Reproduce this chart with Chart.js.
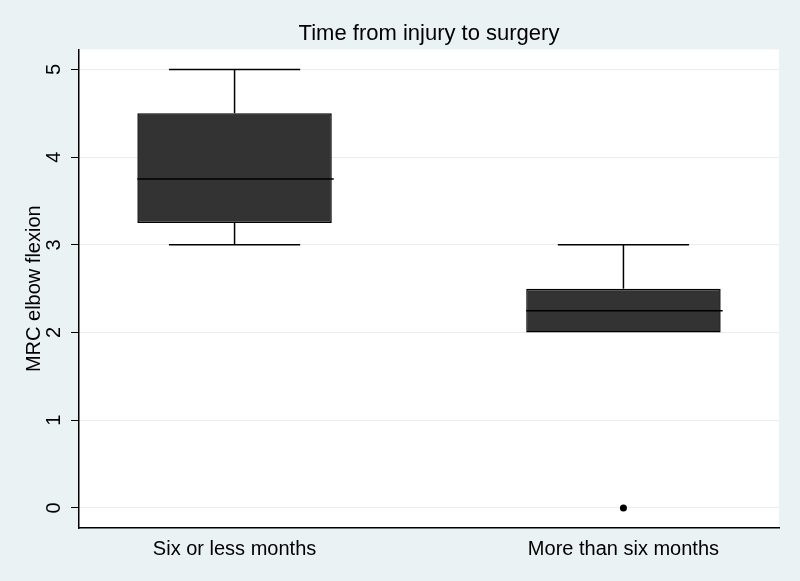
<!DOCTYPE html>
<html>
<head>
<meta charset="utf-8">
<script src="https://cdn.jsdelivr.net/npm/chart.js@4.4.0/dist/chart.umd.min.js"></script>
<style>
    body { margin: 0; background: #eaf2f3; }
    canvas { display: block; }
</style>
</head>
<body>
<canvas id="boxChart" width="800" height="581"></canvas>
<script>
// box plot summary per group
const categories = ['Six or less months', 'More than six months'];
const lowerWhisker = [3, 2];
const q1 = [3.25, 2];
const median = [3.75, 2.25];
const q3 = [4.5, 2.5];
const upperWhisker = [5, 3];
const outliers = [[], [0]];
const yTicks = [0, 1, 2, 3, 4, 5];

const FONT = "'Liberation Sans', Arial, sans-serif";

// whiskers, caps and median line, drawn on top of the bars
const boxParts = {
    id: 'boxParts',
    beforeDraw(chart) {
        const {ctx, chartArea: a} = chart;
        ctx.save();
        ctx.fillStyle = '#ffffff';
        ctx.fillRect(a.left, a.top, a.right - a.left, a.bottom - a.top);
        ctx.restore();
    },
    afterDatasetsDraw(chart) {
        const ctx = chart.ctx;
        const y = chart.scales.y;
        const bars = chart.getDatasetMeta(0).data;

        function line(x1, y1, x2, y2) {
            ctx.beginPath();
            ctx.moveTo(x1, y1);
            ctx.lineTo(x2, y2);
            ctx.stroke();
        }

        ctx.save();
        ctx.strokeStyle = '#000000';
        ctx.lineWidth = 1.5;
        bars.forEach(function (bar, i) {
            let half = bar.width / 2;
            let cap = half * 0.675;
            let yMed = y.getPixelForValue(median[i]);
            line(bar.x - half, yMed, bar.x + half + 2, yMed);

            let yUp = y.getPixelForValue(upperWhisker[i]);
            line(bar.x, yUp, bar.x, y.getPixelForValue(q3[i]));
            line(bar.x - cap, yUp, bar.x + cap, yUp);

            // no lower whisker when it coincides with the box edge
            if (lowerWhisker[i] < q1[i]) {
                let yLow = y.getPixelForValue(lowerWhisker[i]);
                line(bar.x, yLow, bar.x, y.getPixelForValue(q1[i]));
                line(bar.x - cap, yLow, bar.x + cap, yLow);
            }
        });
        ctx.restore();
    }
};

const boxData = categories.map((c, i) => ({x: i + 1, y: [q1[i], q3[i]]}));
const outlierData = [];
outliers.forEach((list, i) => list.forEach(v => outlierData.push({x: i + 1, y: v})));

new Chart(document.getElementById('boxChart').getContext('2d'), {
    type: 'bar',
    data: {
        datasets: [{
            data: boxData,
            backgroundColor: '#333333',
            borderColor: '#000000',
            borderWidth: 1.5,
            borderSkipped: false,
            barPercentage: 0.5,
            categoryPercentage: 1
        }, {
            type: 'scatter',
            data: outlierData,
            backgroundColor: '#000000',
            borderColor: '#000000',
            pointRadius: 3.5,
            borderWidth: 0
        }]
    },
    options: {
        responsive: false,
        animation: false,
        layout: {padding: {right: 21}},
        plugins: {
            legend: {display: false},
            tooltip: {enabled: false},
            title: {
                display: true,
                text: 'Time from injury to surgery',
                color: '#000000',
                fullSize: false,
                font: {family: FONT, size: 22, weight: 'normal'},
                padding: {top: 21, bottom: 2}
            }
        },
        scales: {
            x: {
                type: 'linear',
                offset: false,
                min: 0.6,
                max: 2.4,
                afterBuildTicks: axis => { axis.ticks = categories.map((c, i) => ({value: i + 1})); },
                afterFit: axis => { axis.height = 53; },
                grid: {display: false, drawTicks: false, offset: false},
                border: {display: true, color: '#000000', width: 1.5},
                ticks: {
                    color: '#000000',
                    padding: 9,
                    font: {family: FONT, size: 20},
                    callback: value => categories[value - 1]
                }
            },
            y: {
                min: -0.228,
                max: 5.228,
                afterBuildTicks: axis => { axis.ticks = yTicks.map(v => ({value: v})); },
                afterFit: axis => { axis.width = 79; },
                grid: {color: '#e6eeef', tickColor: '#000000', tickLength: 8, lineWidth: 1},
                border: {display: true, color: '#000000', width: 1.5},
                ticks: {
                    color: '#000000',
                    padding: 11,
                    minRotation: 90,
                    maxRotation: 90,
                    crossAlign: 'center',
                    font: {family: FONT, size: 20}
                },
                title: {
                    display: true,
                    text: 'MRC elbow flexion',
                    color: '#000000',
                    padding: {top: 22, bottom: 0},
                    font: {family: FONT, size: 20}
                }
            }
        }
    },
    plugins: [boxParts]
});
</script>
</body>
</html>
